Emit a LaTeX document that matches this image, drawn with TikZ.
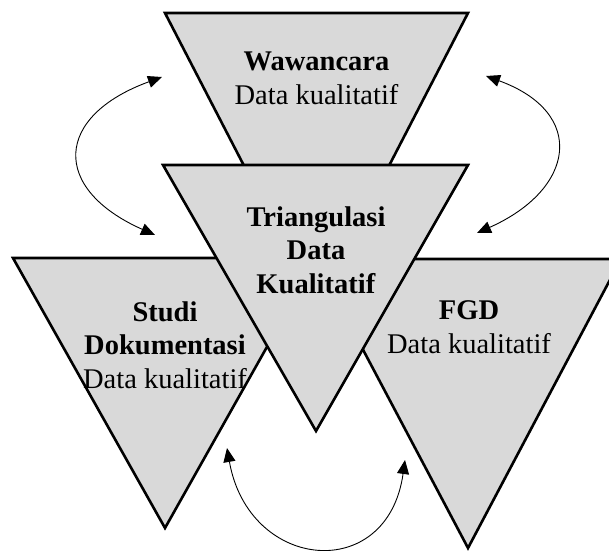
\documentclass[tikz,border=0pt]{standalone}
\usepackage{fontspec}
\setmainfont{Liberation Serif}
\usetikzlibrary{arrows.meta}
\definecolor{segitiga}{RGB}{217,217,217}

\begin{document}
\begin{tikzpicture}[x=1pt,y=1pt,
        tri/.style={fill=segitiga,draw=black,line width=2.6pt},
        teks/.style={align=center,anchor=base,inner sep=0pt,font=\fontsize{28.5}{33.5}\selectfont},
        panah/.style={{Triangle[length=14pt,width=12pt]}-{Triangle[length=14pt,width=12pt]},line width=0.9pt}]
        \useasboundingbox (0,0) rectangle (609,550);
        \clip (0,0) rectangle (609,550);
        \draw[tri] (165,537) -- (468,537) -- (316.5,244) -- cycle;
        \draw[tri] (13,292) -- (317,292) -- (165,22) -- cycle;
        \draw[tri] (315,291) -- (621,291) -- (468,2) -- cycle;
        \draw[tri] (163,385) -- (468,385) -- (316,119) -- cycle;
        \node[teks] (wawancara) at (316.5,446) {\textbf{Wawancara}\\Data kualitatif};
        \node[teks] (triangulasi) at (316,257) {\textbf{Triangulasi}\\\textbf{Data}\\\textbf{Kualitatif}};
        \node[teks] (studi) at (165,162) {\textbf{Studi}\\\textbf{Dokumentasi}\\Data kualitatif};
        \node[teks] (fgd) at (469,197) {\textbf{FGD}\\Data kualitatif};
        \coordinate (kiriatas) at (162,473);
        \coordinate (kiribawah) at (155,315);
        \coordinate (kananatas) at (486,474);
        \coordinate (kananbawah) at (477,317);
        \coordinate (bawahkiri) at (227,102);
        \coordinate (bawahkanan) at (405,90);
        \draw[panah] (kiribawah) to[out=156,in=200,looseness=1.85] (kiriatas);
        \draw[panah] (kananbawah) to[out=24,in=340,looseness=1.75] (kananatas);
        \draw[panah] (bawahkiri) to[out=280,in=262,looseness=1.8] (bawahkanan);
\end{tikzpicture}
\end{document}
